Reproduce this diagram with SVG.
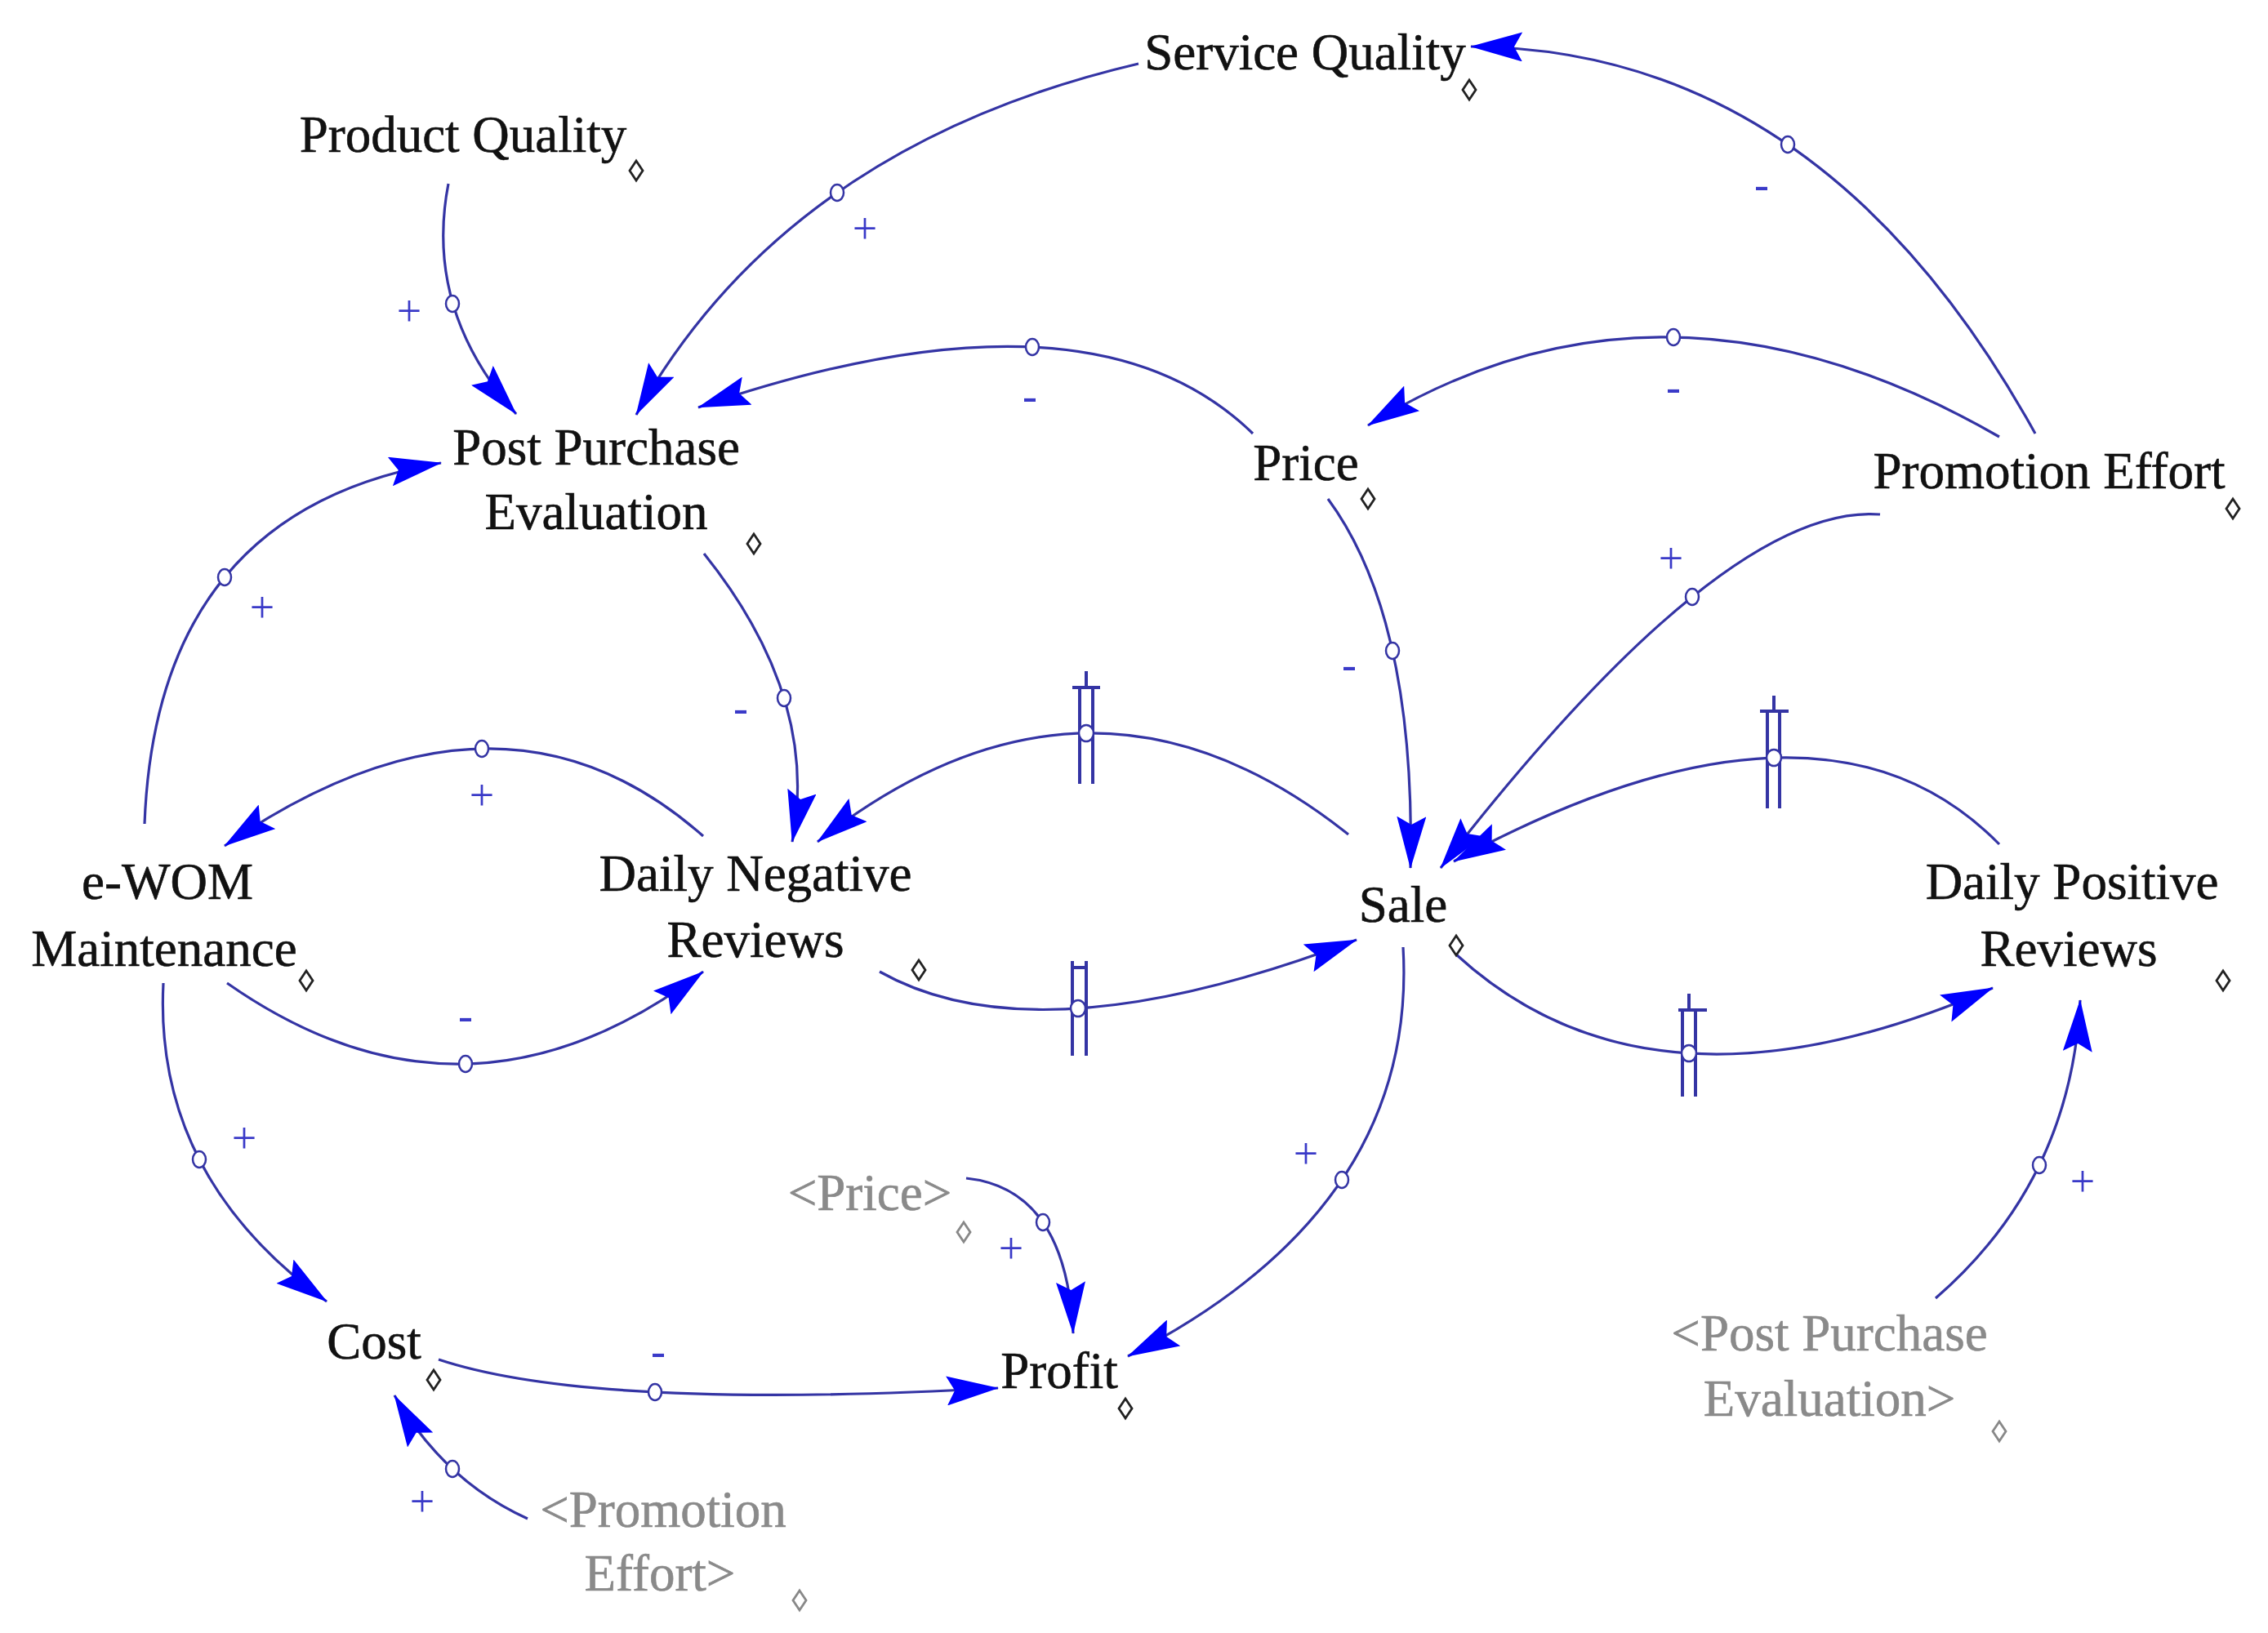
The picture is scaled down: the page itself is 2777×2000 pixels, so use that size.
<svg xmlns="http://www.w3.org/2000/svg" xmlns:xlink="http://www.w3.org/1999/xlink" width="2777" height="2000" viewBox="0 0 2777 2000">
<style>
.lbl{font-family:"Liberation Serif","Times New Roman",serif;font-size:63px;fill:#111;stroke:#111;stroke-width:0.6;text-anchor:middle}
.sh{fill:#8a8a8a;stroke:#8a8a8a}
.lk{fill:none;stroke:#3434a4;stroke-width:3.2}
.pol{font-family:"Liberation Serif","Times New Roman",serif;font-size:54px;fill:#3a3ac8;text-anchor:middle}
.hc{fill:#fff;stroke:#3434a4;stroke-width:2.5}
.dl{stroke:#3434a4;stroke-width:4;fill:none}
.dia{fill:#fff;stroke:#222;stroke-width:2.8}
.diag{fill:#fff;stroke:#888;stroke-width:2.8}
</style>
<defs>
<marker id="ah" viewBox="0 0 64 36" refX="63" refY="18" markerWidth="64" markerHeight="36" markerUnits="userSpaceOnUse" orient="auto">
<path d="M0,0 L64,18 L0,36 L10,18 z" fill="#0000ff"/>
</marker>
<polygon id="dm" points="0,-12 8,0 0,12 -8,0"/>
</defs>
<rect width="2777" height="2000" fill="#fff"/>

<g id="connectors">
<path class="lk" marker-end="url(#ah)" d="M549,225 Q519,379 632,507"/>
<path class="lk" marker-end="url(#ah)" d="M1394,78 Q963.5,179 779,508"/>
<path class="lk" marker-end="url(#ah)" d="M1534,531 Q1333.5,335 855,499"/>
<path class="lk" marker-end="url(#ah)" d="M2492,531 Q2231.5,60 1801,57"/>
<path class="lk" marker-end="url(#ah)" d="M2448,535 Q2036.5,298 1675,521"/>
<path class="lk" marker-end="url(#ah)" d="M2302,630 Q2111,615.5 1764,1063"/>
<path class="lk" marker-end="url(#ah)" d="M1626,611 Q1733.5,757 1727,1063"/>
<path class="lk" marker-end="url(#ah)" d="M862,678 Q1004,855.5 970,1031"/>
<path class="lk" marker-end="url(#ah)" d="M861,1024 Q612,804 275,1036"/>
<path class="lk" marker-end="url(#ah)" d="M278,1204 Q570.5,1409 861,1190"/>
<path class="lk" marker-end="url(#ah)" d="M177,1009 Q191.5,626 540,567"/>
<path class="lk" marker-end="url(#ah)" d="M200,1204 Q188,1441 400,1594"/>
<path class="lk" marker-end="url(#ah)" d="M1651,1022 Q1334,769.5 1001,1031"/>
<path class="lk" marker-end="url(#ah)" d="M1077,1190 Q1271,1299.5 1661,1151"/>
<path class="lk" marker-end="url(#ah)" d="M2448,1034 Q2230,811.5 1780,1055"/>
<path class="lk" marker-end="url(#ah)" d="M1783,1169 Q2024.5,1390.5 2440,1210"/>
<path class="lk" marker-end="url(#ah)" d="M1718,1160 Q1736.5,1479.5 1381,1661"/>
<path class="lk" marker-end="url(#ah)" d="M1183,1443 Q1305.5,1456 1314,1633"/>
<path class="lk" marker-end="url(#ah)" d="M537,1665 Q724.5,1727.5 1222,1700"/>
<path class="lk" marker-end="url(#ah)" d="M646,1860 Q543.5,1813.5 483,1709"/>
<path class="lk" marker-end="url(#ah)" d="M2370,1590 Q2535.5,1446.5 2547,1225"/>

<!-- delay marks -->
<path class="dl" d="M1322,842 V960 M1338,842 V960 M1313,842 H1347 M1330,822 V842"/>
<path class="dl" d="M1313,1177 V1293 M1330,1177 V1293 M1313,1185 H1330"/>
<path class="dl" d="M2164,871 V990 M2179,871 V990 M2155,871 H2190 M2172,852 V871"/>
<path class="dl" d="M2060,1237 V1343 M2076,1237 V1343 M2055,1237 H2090 M2068,1217 V1237"/>

<!-- link midpoint circles -->
<ellipse class="hc" cx="554" cy="372" rx="8" ry="10"/>
<ellipse class="hc" cx="1025" cy="236" rx="8" ry="10"/>
<ellipse class="hc" cx="1264" cy="425" rx="8" ry="10"/>
<ellipse class="hc" cx="2189" cy="177" rx="8" ry="10"/>
<ellipse class="hc" cx="2049" cy="413" rx="8" ry="10"/>
<ellipse class="hc" cx="2072" cy="731" rx="8" ry="10"/>
<ellipse class="hc" cx="1705" cy="797" rx="8" ry="10"/>
<ellipse class="hc" cx="960" cy="855" rx="8" ry="10"/>
<ellipse class="hc" cx="590" cy="917" rx="8" ry="10"/>
<ellipse class="hc" cx="570" cy="1303" rx="8" ry="10"/>
<ellipse class="hc" cx="275" cy="707" rx="8" ry="10"/>
<ellipse class="hc" cx="244" cy="1420" rx="8" ry="10"/>
<ellipse class="hc" cx="1330" cy="898" rx="9" ry="10"/>
<ellipse class="hc" cx="1320" cy="1235" rx="9" ry="10"/>
<ellipse class="hc" cx="2172" cy="928" rx="9" ry="10"/>
<ellipse class="hc" cx="2068" cy="1290" rx="9" ry="10"/>
<ellipse class="hc" cx="1643" cy="1445" rx="8" ry="10"/>
<ellipse class="hc" cx="1277" cy="1497" rx="8" ry="10"/>
<ellipse class="hc" cx="802" cy="1705" rx="8" ry="10"/>
<ellipse class="hc" cx="554" cy="1799" rx="8" ry="10"/>
<ellipse class="hc" cx="2497" cy="1427" rx="8" ry="10"/>

<!-- polarities -->
<text class="pol" x="501" y="399">+</text>
<text class="pol" x="1059" y="298">+</text>
<text class="pol" x="1261" y="503">-</text>
<text class="pol" x="2157" y="244">-</text>
<text class="pol" x="2049" y="492">-</text>
<text class="pol" x="2046" y="702">+</text>
<text class="pol" x="1652" y="832">-</text>
<text class="pol" x="907" y="885">-</text>
<text class="pol" x="590" y="992">+</text>
<text class="pol" x="570" y="1262">-</text>
<text class="pol" x="321" y="762">+</text>
<text class="pol" x="299" y="1412">+</text>
<text class="pol" x="1599" y="1431">+</text>
<text class="pol" x="1238" y="1547">+</text>
<text class="pol" x="806" y="1673">-</text>
<text class="pol" x="517" y="1857">+</text>
<text class="pol" x="2550" y="1465">+</text>
</g>

<g id="product-quality"><text class="lbl" x="567" y="186">Product Quality</text><use xlink:href="#dm" class="dia" x="779" y="209"/></g>
<g id="service-quality"><text class="lbl" x="1598" y="85">Service Quality</text><use xlink:href="#dm" class="dia" x="1799" y="110"/></g>
<g id="post-purchase-evaluation"><text class="lbl" x="730" y="569">Post Purchase</text><text class="lbl" x="730" y="648">Evaluation</text><use xlink:href="#dm" class="dia" x="923" y="666"/></g>
<g id="price"><text class="lbl" x="1599" y="588">Price</text><use xlink:href="#dm" class="dia" x="1675" y="611"/></g>
<g id="promotion-effort"><text class="lbl" x="2509" y="598">Promotion Effort</text><use xlink:href="#dm" class="dia" x="2734" y="623"/></g>
<g id="ewom-maintenance"><text class="lbl" x="205" y="1101">e-WOM</text><text class="lbl" x="201" y="1183">Maintenance</text><use xlink:href="#dm" class="dia" x="375" y="1201"/></g>
<g id="daily-negative-reviews"><text class="lbl" x="925" y="1091">Daily Negative</text><text class="lbl" x="925" y="1172">Reviews</text><use xlink:href="#dm" class="dia" x="1125" y="1188"/></g>
<g id="sale"><text class="lbl" x="1718" y="1129">Sale</text><use xlink:href="#dm" class="dia" x="1783" y="1158"/></g>
<g id="daily-positive-reviews"><text class="lbl" x="2537" y="1101">Daily Positive</text><text class="lbl" x="2533" y="1183">Reviews</text><use xlink:href="#dm" class="dia" x="2722" y="1201"/></g>
<g id="cost"><text class="lbl" x="458" y="1664">Cost</text><use xlink:href="#dm" class="dia" x="531" y="1690"/></g>
<g id="profit"><text class="lbl" x="1297" y="1700">Profit</text><use xlink:href="#dm" class="dia" x="1378" y="1725"/></g>
<g id="shadow-price"><text class="lbl sh" x="1065" y="1482">&lt;Price&gt;</text><use xlink:href="#dm" class="diag" x="1180" y="1509"/></g>
<g id="shadow-promotion-effort"><text class="lbl sh" x="812" y="1870">&lt;Promotion</text><text class="lbl sh" x="808" y="1948">Effort&gt;</text><use xlink:href="#dm" class="diag" x="979" y="1960"/></g>
<g id="shadow-post-purchase-evaluation"><text class="lbl sh" x="2240" y="1654">&lt;Post Purchase</text><text class="lbl sh" x="2240" y="1734">Evaluation&gt;</text><use xlink:href="#dm" class="diag" x="2448" y="1753"/></g>
</svg>
